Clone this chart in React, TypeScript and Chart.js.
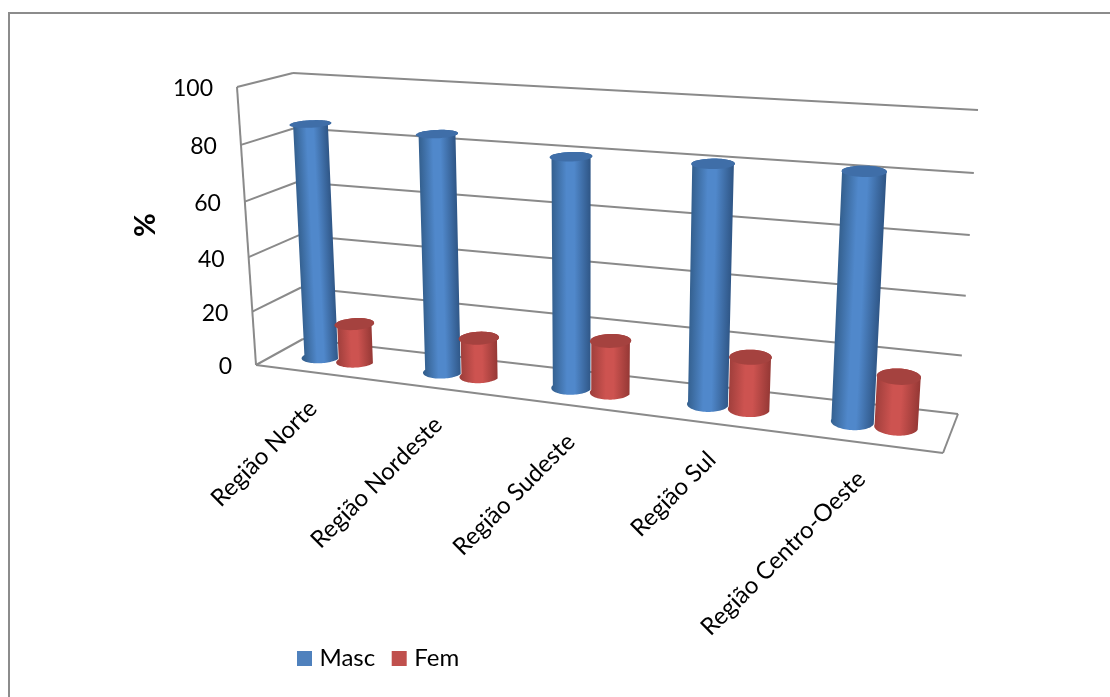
import React, { useEffect, useRef } from "react";
import { Chart, registerables, BarController, BarElement } from "chart.js";

const regions = ["Região Norte", "Região Nordeste", "Região Sudeste", "Região Sul", "Região Centro-Oeste"];
const masc = [85.5, 85, 80.5, 81.5, 82.5];
const fem = [14, 14, 18.3, 18, 17];
const valueTicks = [0, 20, 40, 60, 80, 100];

type Pt = [number, number];

// Corners of the two vertical planes of the 3D box: front and back, each
// listed bottom-left, bottom-right, top-right, top-left.
const FRONT: Pt[] = [[256, 365], [943, 453], [963, 133], [237, 87]];
const BACK: Pt[] = [[303, 339], [958, 414], [978, 110], [293, 73]];
const BAR_DEPTH = 0.5;
const BAR_DEPTH_RADIUS = 0.22;
const FONT = "Lato, Carlito, Calibri, sans-serif";
const GRID = "#8a8a8a";

// Projective map of the unit square on a quadrilateral.
function quadMap(q: Pt[]) {
  const [[x0, y0], [x1, y1], [x2, y2], [x3, y3]] = q;
  const dx1 = x1 - x2, dx2 = x3 - x2, sx = x0 - x1 + x2 - x3;
  const dy1 = y1 - y2, dy2 = y3 - y2, sy = y0 - y1 + y2 - y3;
  const den = dx1 * dy2 - dx2 * dy1;
  const g = (sx * dy2 - dx2 * sy) / den;
  const h = (dx1 * sy - sx * dy1) / den;
  const a = x1 - x0 + g * x1, b = x3 - x0 + h * x3;
  const d = y1 - y0 + g * y1, e = y3 - y0 + h * y3;
  return (u: number, v: number): Pt => {
    const w = g * u + h * v + 1;
    return [(a * u + b * v + x0) / w, (d * u + e * v + y0) / w];
  };
}
const frontPlane = quadMap(FRONT);
const backPlane = quadMap(BACK);

// s: along the categories, h: along the values, d: depth (0 front, 1 back).
function project(s: number, h: number, d: number): Pt {
  const f = frontPlane(s, h), b = backPlane(s, h);
  return [f[0] + (b[0] - f[0]) * d, f[1] + (b[1] - f[1]) * d];
}

const SHADES: Record<string, { edgeL: string; mid: string; edgeR: string; cap: string }> = {
  "#4F81BD": { edgeL: "#34608f", mid: "#5088cb", edgeR: "#2f5686", cap: "#3f6ea8" },
  "#C0504D": { edgeL: "#a03f3c", mid: "#cd5350", edgeR: "#953835", cap: "#a5423f" },
};

class CylinderElement extends BarElement {
  static id = "cylinder";
  static defaults = { ...BarElement.defaults };
  static defaultRoutes = BarElement.defaultRoutes;

  draw(ctx: CanvasRenderingContext2D) {
    const { x, y, base, width } = this as any;
    const chart = (this as any).$chart as Chart;
    const xs = chart.scales.x, ys = chart.scales.y;
    const sOf = (px: number) => (px - xs.left) / xs.width;
    const hOf = (py: number) => (ys.bottom - py) / ys.height;
    const sc = sOf(x), r = width / 2 / xs.width;
    const top = hOf(y), bottom = hOf(base);
    const ring = (h: number, from: number, to: number): Pt[] => {
      const pts: Pt[] = [];
      for (let i = 0; i <= 40; i++) {
        const t = from + ((to - from) * i) / 40;
        pts.push(project(sc + r * Math.cos(t), h, BAR_DEPTH + BAR_DEPTH_RADIUS * Math.sin(t)));
      }
      return pts;
    };
    const shade = SHADES[(this as any).options.backgroundColor];
    const a = project(sc, bottom, BAR_DEPTH), b = project(sc, top, BAR_DEPTH);
    const len = Math.hypot(b[0] - a[0], b[1] - a[1]) || 1;
    const nx = (a[1] - b[1]) / len, ny = (b[0] - a[0]) / len;
    const left = project(sc - r, (top + bottom) / 2, BAR_DEPTH);
    const right = project(sc + r, (top + bottom) / 2, BAR_DEPTH);
    const half = Math.hypot(right[0] - left[0], right[1] - left[1]) / 2;
    const cx = (left[0] + right[0]) / 2, cy = (left[1] + right[1]) / 2;
    const grad = ctx.createLinearGradient(cx - nx * half, cy - ny * half, cx + nx * half, cy + ny * half);
    grad.addColorStop(0, shade.edgeL);
    grad.addColorStop(0.38, shade.mid);
    grad.addColorStop(0.58, shade.mid);
    grad.addColorStop(1, shade.edgeR);

    const trace = (pts: Pt[], start: boolean) =>
      pts.forEach((p, i) => (i === 0 && start ? ctx.moveTo(p[0], p[1]) : ctx.lineTo(p[0], p[1])));

    ctx.save();
    // Silhouette: over the far side of the cap, back along the near side of the base.
    ctx.beginPath();
    trace(ring(top, Math.PI, 0), true);
    trace(ring(bottom, 0, -Math.PI), false);
    ctx.closePath();
    ctx.fillStyle = grad;
    ctx.fill();

    ctx.beginPath();
    trace(ring(top, 0, 2 * Math.PI), true);
    ctx.closePath();
    ctx.fillStyle = shade.cap;
    ctx.fill();
    ctx.restore();
  }
}

class CylinderController extends BarController {
  static id = "cylinderBar";
  static defaults = { ...BarController.defaults, dataElementType: "cylinder" };
  static overrides = BarController.overrides;

  updateElements(...args: any[]) {
    (super.updateElements as any)(...args);
    (args[0] as any[]).forEach((el) => { el.$chart = this.chart; });
  }
}

Chart.register(...registerables, CylinderElement, CylinderController);

const box3d = {
  id: "box3d",
  afterLayout(chart: any) {
    // The legend sits under the left half of the plot, not centred on the canvas.
    chart.legend.left = 280.5;
    chart.legend.top = 625.5;
  },
  beforeDatasetsDraw(chart: any) {
    const { ctx } = chart;
    const ys = chart.scales.y, xs = chart.scales.x;
    const line = (p: Pt, q: Pt) => {
      ctx.beginPath();
      ctx.moveTo(p[0], p[1]);
      ctx.lineTo(q[0], q[1]);
      ctx.stroke();
    };
    ctx.save();
    // Top and left edges of the chart object's frame run off the page.
    ctx.strokeStyle = "#8c8c8c";
    ctx.lineWidth = 2;
    ctx.lineCap = "square";
    line([9, 13], [1110, 13]);
    line([9, 13], [9, 697]);
    ctx.lineCap = "butt";

    ctx.strokeStyle = GRID;
    ctx.lineWidth = 2;
    line(project(0, 0, 0), project(0, 1, 0));
    line(project(0, 0, 0), project(1, 0, 0));
    line(project(1, 0, 0), project(1, 0, 1));
    ys.ticks.forEach((t: any) => {
      const h = (ys.bottom - ys.getPixelForValue(t.value)) / ys.height;
      line(project(0, h, 0), project(0, h, 1));
      line(project(0, h, 1), project(1, h, 1));
    });

    // Value labels follow the slanted front edge of the left wall.
    ctx.fillStyle = "#000";
    ctx.font = `23px ${FONT}`;
    ctx.textAlign = "right";
    ctx.textBaseline = "middle";
    ys.ticks.forEach((t: any) => {
      const h = (ys.bottom - ys.getPixelForValue(t.value)) / ys.height;
      const p = project(0, h, 0);
      ctx.fillText(String(t.value), p[0] - 24, p[1] + 2);
    });

    // Category labels hang from the front edge of the floor at 45 degrees.
    ctx.font = `24px ${FONT}`;
    xs.ticks.forEach((t: any, i: number) => {
      const s = (xs.getPixelForValue(t.value) - xs.left) / xs.width;
      const p = project(s, 0, 0);
      ctx.save();
      ctx.translate(p[0] - 3, p[1] + 32);
      ctx.rotate(-Math.PI / 4);
      ctx.textAlign = "right";
      ctx.fillText(regions[i], 0, 0);
      ctx.restore();
    });

    // Axis title.
    ctx.save();
    ctx.translate(146, 225);
    ctx.rotate(-Math.PI / 2);
    ctx.textAlign = "center";
    ctx.font = `bold 29px ${FONT}`;
    ctx.fillText("%", 0, 0);
    ctx.restore();
    ctx.restore();

    // Series paint left to right so that each Fem cylinder overlaps its Masc neighbour.
    chart.getSortedVisibleDatasetMetas().forEach((meta: any) => meta.controller.draw());
    return false;
  },
};

export default function App() {
  const ref = useRef<HTMLCanvasElement>(null);
  useEffect(() => {
    const chart = new Chart(ref.current!, {
      type: "cylinderBar" as any,
      data: {
        labels: regions,
        datasets: [
          { label: "Masc", data: masc, backgroundColor: "#4F81BD", borderWidth: 0 },
          { label: "Fem", data: fem, backgroundColor: "#C0504D", borderWidth: 0 },
        ] as any,
      },
      options: {
        responsive: false,
        animation: false,
        categoryPercentage: 0.58,
        barPercentage: 0.98,
        layout: { padding: 0 },
        scales: {
          x: { display: false, ticks: { autoSkip: false } },
          y: { display: false, min: 0, max: 100, afterBuildTicks: (s: any) => { s.ticks = valueTicks.map((value) => ({ value })); } },
        },
        plugins: {
          tooltip: { enabled: false },
          legend: {
            position: "bottom",
            align: "start",
            labels: {
              boxWidth: 6,
              boxHeight: 6,
              padding: 21,
              color: "#000",
              font: { size: 24, family: FONT },
              // A thick same-coloured outline brings the swatch to 15px while keeping it near its text.
              generateLabels: (c: any) =>
                (Chart.defaults.plugins.legend.labels.generateLabels as any)(c).map((l: any) => ({
                  ...l,
                  lineWidth: 9,
                  strokeStyle: l.fillStyle,
                })),
            },
          },
        },
      } as any,
      plugins: [box3d],
    });
    return () => chart.destroy();
  }, []);
  return (
    <div style={{ position: "absolute", left: 0, top: 0, width: 1110, height: 697, background: "#fff" }}>
      <canvas ref={ref} width={1110} height={697} style={{ display: "block" }} />
    </div>
  );
}
